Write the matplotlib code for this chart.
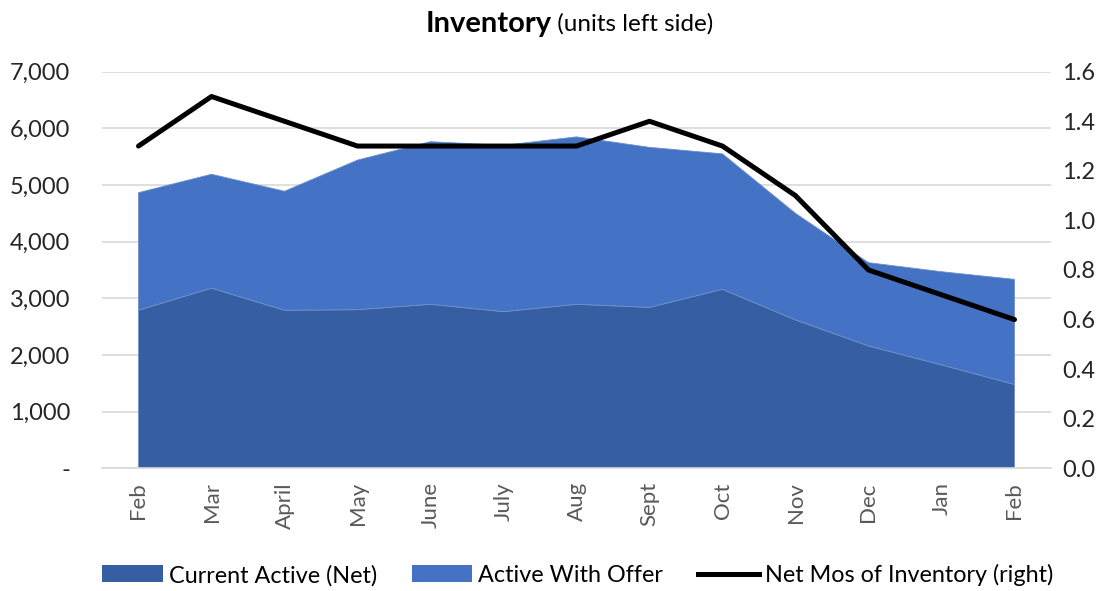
import matplotlib
matplotlib.use("Agg")
import matplotlib.pyplot as plt
import numpy as np
from matplotlib.ticker import FuncFormatter, FixedLocator
from matplotlib.patches import Patch
from matplotlib.lines import Line2D

plt.rcParams['font.family'] = ['Lato', 'DejaVu Sans']

months = ["Feb", "Mar", "April", "May", "June", "July", "Aug", "Sept", "Oct", "Nov", "Dec", "Jan", "Feb"]
current_active_net = [2790, 3180, 2790, 2800, 2895, 2765, 2895, 2840, 3160, 2620, 2160, 1825, 1480]
total_inventory = [4865, 5190, 4890, 5440, 5765, 5700, 5850, 5665, 5550, 4500, 3630, 3470, 3335]
active_with_offer = [t - c for t, c in zip(total_inventory, current_active_net)]
net_mos = [1.3, 1.5, 1.4, 1.3, 1.3, 1.3, 1.3, 1.4, 1.3, 1.1, 0.8, 0.7, 0.6]

left_ticks = [0, 1000, 2000, 3000, 4000, 5000, 6000, 7000]
right_ticks = [0.0, 0.2, 0.4, 0.6, 0.8, 1.0, 1.2, 1.4, 1.6]

dark = "#365FA3"
light = "#4472C4"
grid_c = "#D9D9D9"

fig = plt.figure(figsize=(11.15, 5.91), dpi=100)
ax = fig.add_axes([102/1115, 1-468.3/591, (1051-102)/1115, (468.3-71.7)/591])
x = np.arange(len(months))

ax.stackplot(x, current_active_net, active_with_offer, colors=[dark, light],
             linewidth=0.6, edgecolor=["#6F8FC8", "none"], zorder=2)
ax.set_xlim(-0.5, len(months) - 0.5)
ax.set_ylim(0, 7000)
ax.yaxis.set_major_locator(FixedLocator(left_ticks))
ax.yaxis.set_major_formatter(FuncFormatter(lambda v, p: "-" if v == 0 else f"{int(v):,}"))
ax.grid(axis='y', color=grid_c, linewidth=1.2, zorder=0)
ax.set_axisbelow(True)
ax.set_xticks(x)
ax.set_xticklabels(months, rotation=90, fontsize=16, color="#595959")
for s in ["top", "left", "right"]:
    ax.spines[s].set_visible(False)
ax.spines["bottom"].set_color(grid_c)
ax.spines["bottom"].set_linewidth(1.2)
ax.tick_params(axis='both', length=0)
ax.tick_params(axis='y', labelsize=17, labelcolor="#262626", pad=23)
ax.tick_params(axis='x', pad=10)

ax2 = ax.twinx()
ax2.plot(x, net_mos, color="black", linewidth=3.6, solid_capstyle='round', zorder=5)
ax2.set_ylim(0, 1.6)
ax2.yaxis.set_major_locator(FixedLocator(right_ticks))
ax2.yaxis.set_major_formatter(FuncFormatter(lambda v, p: f"{v:.1f}"))
for s in ["top", "left", "right", "bottom"]:
    ax2.spines[s].set_visible(False)
ax2.tick_params(axis='y', length=0, labelsize=17, labelcolor="#262626", pad=8)

fig.text(0.4945, 0.96, "Inventory", fontsize=21, fontweight='bold', ha='right', va='center')
fig.text(0.4945, 0.96, " (units left side)", fontsize=17.5, ha='left', va='center')

handles = [Patch(facecolor=dark, edgecolor='none'),
           Patch(facecolor=light, edgecolor='none'),
           Line2D([0], [0], color='black', linewidth=3.6)]
labels = ["Current Active (Net)", "Active With Offer", "Net Mos of Inventory (right)"]
fig.legend(handles, labels, loc='center', bbox_to_anchor=(0.518, 0.027), ncol=3,
           frameon=False, fontsize=16.8, handlelength=2.6, handleheight=0.75,
           handletextpad=0.25, columnspacing=1.5)

fig.savefig("out.png", dpi=100)
